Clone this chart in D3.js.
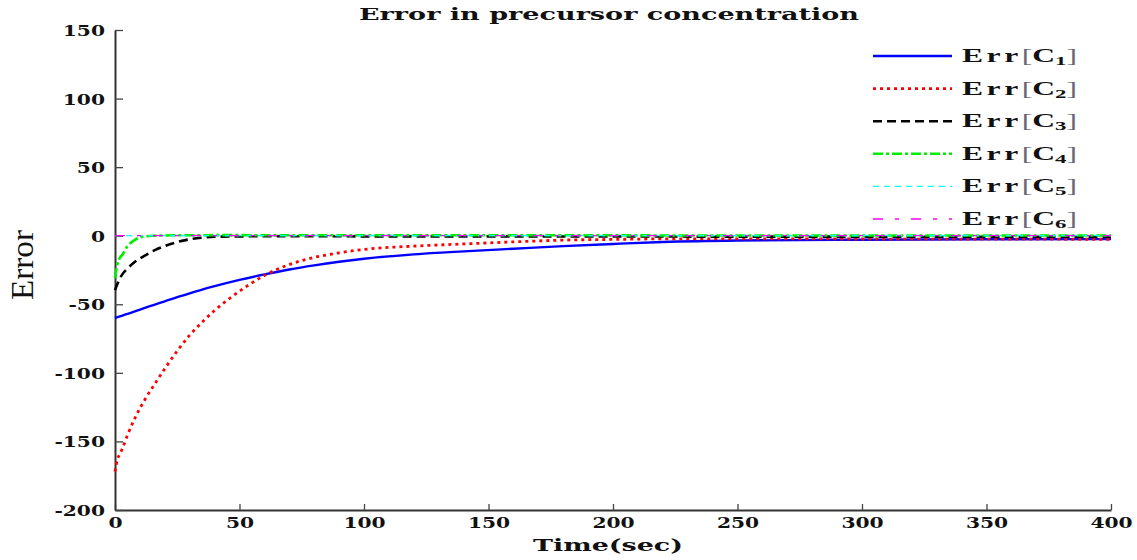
<!DOCTYPE html>
<html>
<head>
<meta charset="utf-8">
<script src="https://cdn.jsdelivr.net/npm/d3@7"></script>
<style>
body{margin:0;background:#fff}
svg{display:block}
</style>
</head>
<body>
<script>

// time samples (sec)
var times = [0,1,2,3,5,8,12,16,20,25,30,35,40,50,60,70,80,90,100,120,140,160,180,200,220,250,300,350,400];

// error series
var errC1 = [-60,-59.4,-58.8,-58.2,-57,-55.2,-52.6,-50.2,-47.8,-44.8,-42,-39.3,-36.8,-32.2,-28.2,-24.6,-21.6,-19,-16.8,-13.6,-11.4,-9.5,-7.6,-6,-4.6,-3.5,-2.9,-2.6,-2.5];
var errC2 = [-172,-163,-159,-155,-145.5,-133,-119.5,-108,-97,-84,-72.5,-63,-54.5,-40.5,-29,-21,-15.8,-12.5,-10,-7.6,-6,-4.5,-3.2,-2.7,-2.3,-2.3,-2.4,-2.5,-2.6];
var errC3 = [-39.7,-35,-31,-28,-24,-19,-14.5,-10.5,-7.5,-4.6,-2.6,-1.4,-0.8,-0.5,-0.4,-0.4,-0.4,-0.4,-0.5,-0.5,-0.5,-0.5,-0.6,-0.6,-0.6,-0.7,-0.7,-0.8,-0.8];
var errC4 = [-31,-20.5,-16,-13.8,-7.7,-3,-0.5,0,0.2,0.3,0.3,0.3,0.4,0.4,0.3,0.3,0.3,0.3,0.3,0.3,0.3,0.3,0.3,0.3,0.2,0.2,0.2,0.2,0.2];
var errC5 = [0,0,0,0,0,0,0,0,0,0,0,0,0,0,0,0,0,0,0,0,0,0,0,0,0,0,0,0,0];
var errC6 = [0,0,0,0,0,0,0,0,0,0,0,0,0,0,0,0,0,0,0,0,0,0,0,0,0,0,0,0,0];

var seriesValues = [errC1,errC2,errC3,errC4,errC5,errC6];
var seriesIndex = ["1","2","3","4","5","6"];

var xTicks = [0,50,100,150,200,250,300,350,400];
var yTicks = [-200,-150,-100,-50,0,50,100,150];

var TITLE = "Error in precursor concentration";
var XLABEL = "Time(sec)";
var YLABEL = "Error";

// line looks, one per series (same order as seriesValues)
var LOOKS = [
	{"color":"#0000ff","width":2.4,"dash":null},
	{"color":"#ff0000","width":2.8,"dash":"3,4"},
	{"color":"#000000","width":2.6,"dash":"9,5"},
	{"color":"#00ee00","width":2.6,"dash":"10,3,3,3"},
	{"color":"#00ffff","width":1.3,"dash":"6,5"},
	{"color":"#ff00ff","width":1.3,"dash":"10,12,4,12"}
];

var W=1137, H=560;
var FONT = "'DejaVu Serif', 'Liberation Serif', serif";
var STRETCH = 1.35;

var svg = d3.select("body").append("svg").attr("width",W).attr("height",H);

var x = d3.scaleLinear().domain([0,400]).range([115,1111]);
var y = d3.scaleLinear().domain([-200,150]).range([510,30]);

// ---------------- axes ----------------
var gX = svg.append("g")
	.attr("transform","translate(0,"+y(-200)+")")
	.call(d3.axisBottom(x).tickValues(xTicks).tickSizeInner(-6).tickSizeOuter(0).tickFormat(function(d){return String(d);}));

var gY = svg.append("g")
	.attr("transform","translate("+x(0)+",0)")
	.call(d3.axisLeft(y).tickValues(yTicks).tickSizeInner(-8).tickSizeOuter(0).tickFormat(function(d){return String(d);}));

[gX,gY].forEach(function(g){
	g.select(".domain").attr("stroke","#333").attr("stroke-width",2);
	g.selectAll(".tick line").attr("stroke","#444").attr("stroke-width",1.3);
	g.selectAll(".tick text")
		.attr("fill","#111")
		.style("font-family",FONT)
		.style("font-size","15px")
		.style("font-weight","bold");
});

gX.selectAll(".tick text")
	.attr("y",null).attr("dy",null)
	.attr("text-anchor","middle")
	.attr("transform","translate(0,18) scale("+STRETCH+",1)");

gY.selectAll(".tick text")
	.attr("x",null).attr("dy",null)
	.attr("text-anchor","end")
	.attr("transform","translate(-10,5.5) scale("+STRETCH+",1)");

// ---------------- curves ----------------
var line = d3.line()
	.x(function(d){return x(d[0]);})
	.y(function(d){return y(d[1]);})
	.curve(d3.curveMonotoneX);

var gLines = svg.append("g").attr("id","curves");

seriesValues.forEach(function(vals,i){
	var pts = times.map(function(t,k){return [t,vals[k]];});
	var look = LOOKS[i];
	gLines.append("path")
		.attr("d",line(pts))
		.attr("fill","none")
		.attr("stroke",look.color)
		.attr("stroke-width",look.width)
		.attr("stroke-dasharray",look.dash);
});

// ---------------- legend ----------------
var gLegend = svg.append("g").attr("id","legend");
var LEG_X1=873, LEG_X2=952, LEG_TOP=56, LEG_STEP=32.6;

seriesIndex.forEach(function(n,i){
	var ly = LEG_TOP + i*LEG_STEP;
	var look = LOOKS[i];
	gLegend.append("line")
		.attr("x1",LEG_X1).attr("x2",LEG_X2)
		.attr("y1",ly).attr("y2",ly)
		.attr("stroke",look.color)
		.attr("stroke-width",look.width)
		.attr("stroke-dasharray",look.dash);

	var t = gLegend.append("text")
		.attr("x",962).attr("y",ly+6)
		.attr("textLength",115)
		.attr("lengthAdjust","spacingAndGlyphs")
		.style("font-family","'Liberation Serif', 'DejaVu Serif', serif")
		.style("font-size","18px")
		.attr("fill","#111");
	t.append("tspan").style("font-weight","bold").style("letter-spacing","2px").text("Err");
	t.append("tspan").attr("fill","#667").text("[");
	t.append("tspan").style("font-weight","bold").text("C");
	t.append("tspan").style("font-weight","bold").style("font-size","13px").attr("dy",3).text(n);
	t.append("tspan").attr("fill","#667").attr("dy",-3).text("]");
});

// ---------------- titles ----------------
svg.append("text")
	.attr("x",609).attr("y",19.5)
	.attr("text-anchor","middle")
	.attr("textLength",500)
	.attr("lengthAdjust","spacingAndGlyphs")
	.style("font-family",FONT)
	.style("font-size","17px")
	.style("font-weight","bold")
	.attr("fill","#111")
	.text(TITLE);

svg.append("text")
	.attr("x",608).attr("y",551)
	.attr("text-anchor","middle")
	.attr("textLength",150)
	.attr("lengthAdjust","spacingAndGlyphs")
	.style("font-family",FONT)
	.style("font-size","17px")
	.style("font-weight","bold")
	.attr("fill","#111")
	.text(XLABEL);

svg.append("text")
	.attr("transform","translate(33,265) scale(1.75,1) rotate(-90)")
	.attr("text-anchor","middle")
	.attr("textLength",70)
	.attr("lengthAdjust","spacingAndGlyphs")
	.style("font-family","'Liberation Serif', serif")
	.style("font-size","18px")
	.attr("fill","#111")
	.text(YLABEL);

</script>
</body>
</html>
